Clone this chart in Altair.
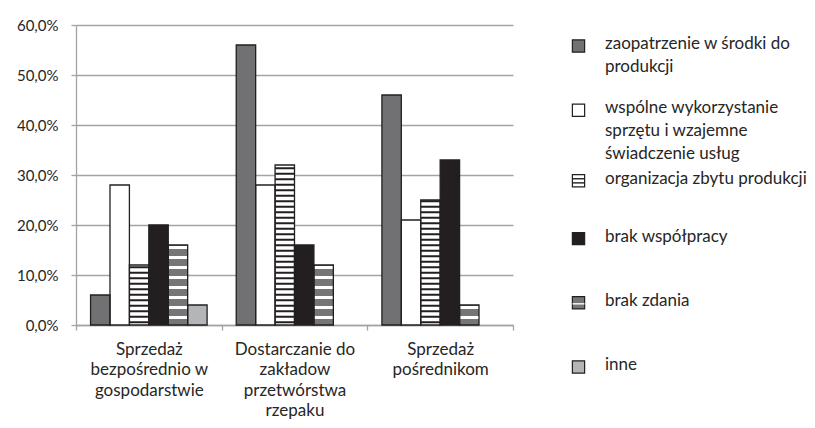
import altair as alt
import pandas as pd

groups = [
    "Sprzedaż|bezpośrednio w|gospodarstwie",
    "Dostarczanie do|zakładow|przetwórstwa|rzepaku",
    "Sprzedaż|pośrednikom",
]
series = [
    "zaopatrzenie w środki do produkcji",
    "wspólne wykorzystanie sprzętu i wzajemne świadczenie usług",
    "organizacja zbytu produkcji",
    "brak współpracy",
    "brak zdania",
    "inne",
]
legend_labels = [
    "zaopatrzenie w środki do|produkcji",
    "wspólne wykorzystanie|sprzętu i wzajemne|świadczenie usług",
    "organizacja zbytu produkcji",
    "brak współpracy",
    "brak zdania",
    "inne",
]
# legend row slots (layout only; third row sits a little lower, as in the original)
legend_slots = [0, 1, 2.1, 3, 4, 5]

zaopatrzenie = [6, 56, 46]
wspolne = [28, 28, 21]
organizacja = [12, 32, 25]
brak_wspolpracy = [20, 16, 33]
brak_zdania = [16, 12, 4]
inne = [4, 0, 0]
y_ticks = [0, 10, 20, 30, 40, 50, 60]

fills = ["#717174", "#ffffff", "#ffffff", "#231f20", "#767679", "#b4b5b8"]
edge = "#231f20"
grid = "#a3a3a3"
font = "Lato"
txt = "#262626"

values = [zaopatrzenie, wspolne, organizacja, brak_wspolpracy, brak_zdania, inne]
rows = []
for s, vals in zip(series, values):
    for g, v in zip(groups, vals):
        rows.append({"group": g, "series": s, "value": v})
df = pd.DataFrame(rows)

# decorative hatch stripes (style only), derived from the bar heights
def stripes(name, period, thick, start):
    out = []
    for _, r in df[df.series == name].iterrows():
        y = start
        while y < r.value:
            out.append({"group": r.group, "series": name, "y0": y, "y1": min(y + thick, r.value)})
            y += period
    return pd.DataFrame(out)

st_org = stripes(series[2], 1.1, 0.4, 0.35)
st_bz = stripes(series[4], 2.0, 0.6, 1.2)

x_enc = alt.X(
    "group:N", sort=groups, title=None,
    scale=alt.Scale(paddingInner=0, paddingOuter=0),
    axis=alt.Axis(
        labelAngle=0, labelExpr="split(datum.label, '|')", labelLineHeight=20.5,
        labelPadding=11, labelFontSize=17, labelFont=font, labelColor=txt,
        labelLimit=0, domainColor=grid, tickColor=grid, tickSize=5, tickBand="extent",
        domainWidth=1.3, tickWidth=1.3,
    ),
)
xo_enc = alt.XOffset("series:N", sort=series,
                     scale=alt.Scale(domain=series, paddingInner=0, paddingOuter=0.75))
y_scale = alt.Scale(domain=[0, 60], nice=False)
y_enc = alt.Y(
    "value:Q", scale=y_scale, title=None,
    axis=alt.Axis(
        values=y_ticks, labelExpr="replace(format(datum.value / 100, '.1%'), '.', ',')",
        grid=True, gridColor=grid, gridWidth=1.3, domainColor=grid, domainWidth=1.3,
        tickColor=grid, tickWidth=1.3, tickSize=5, labelPadding=13, labelFontSize=15,
        labelFont=font, labelColor=txt,
    ),
)
fill_enc = alt.Fill("series:N", sort=series, scale=alt.Scale(domain=series, range=fills), legend=None)

base_bars = alt.Chart(df).mark_bar(strokeWidth=0).encode(x=x_enc, xOffset=xo_enc, y=y_enc, fill=fill_enc)

stripe_org = alt.Chart(st_org).mark_bar(color="#231f20").encode(
    x=alt.X("group:N", sort=groups), xOffset=alt.XOffset("series:N", sort=series),
    y=alt.Y("y0:Q", scale=y_scale), y2="y1:Q",
)
stripe_bz = alt.Chart(st_bz).mark_bar(color="#ffffff").encode(
    x=alt.X("group:N", sort=groups), xOffset=alt.XOffset("series:N", sort=series),
    y=alt.Y("y0:Q", scale=y_scale), y2="y1:Q",
)
outline = alt.Chart(df).transform_filter("datum.value > 0").mark_bar(
    fillOpacity=0, stroke=edge, strokeWidth=1.3
).encode(x=alt.X("group:N", sort=groups), xOffset=alt.XOffset("series:N", sort=series),
         y=alt.Y("value:Q", scale=y_scale))

# ---- manual legend (own vertical scale) ----
leg_df = pd.DataFrame({"series": series, "label": legend_labels, "idx": legend_slots})
leg_scale = alt.Scale(domain=[0, 5], range=[21, 342], nice=False, zero=False)
leg_y = alt.Y("idx:Q", scale=leg_scale, axis=None)
leg_sym = alt.Chart(leg_df).mark_square(size=150, stroke=edge, strokeWidth=1.2, opacity=1).encode(
    x=alt.value(502.5), y=leg_y,
    fill=alt.Fill("series:N", sort=series, scale=alt.Scale(domain=series, range=fills), legend=None),
)
# hatch marks inside the two patterned swatches (decoration)
hatch = pd.DataFrame({
    "idx": [legend_slots[2] - 0.032, legend_slots[2] + 0.032, legend_slots[4] + 0.016],
    "col": ["black", "black", "white"],
})
leg_hatch = alt.Chart(hatch).mark_rule(strokeWidth=1.4).encode(
    x=alt.value(496.5), x2=alt.value(508.5), y=leg_y,
    color=alt.Color("col:N", scale=alt.Scale(domain=["black", "white"], range=[edge, "#ffffff"]), legend=None),
)
leg_txt = alt.Chart(leg_df).mark_text(
    align="left", baseline="top", lineBreak="|", fontSize=17, lineHeight=23,
    font=font, color=txt, dy=-10,
).encode(x=alt.value(529), y=leg_y, text="label:N")

legend = alt.layer(leg_sym, leg_hatch, leg_txt)
bars = alt.layer(base_bars, stripe_org, stripe_bz, outline)
chart = alt.layer(bars, legend).resolve_scale(y="independent", color="independent").properties(
    width=437, height=300,
    autosize=alt.AutoSizeParams(type="none"),
    padding={"left": 68, "top": 17, "right": 294, "bottom": 95},
).configure_view(stroke=None)

chart.save("out.html", embed_options={"renderer": "svg", "actions": False})
